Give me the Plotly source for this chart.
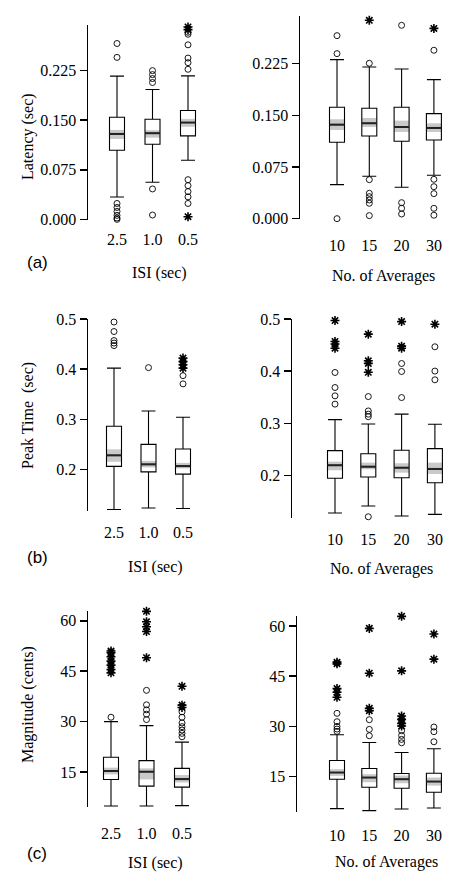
import plotly.graph_objects as go

W, H = 462, 878

# ---------------- data ----------------
isi_labels = ["2.5", "1.0", "0.5"]
avg_labels = ["10", "15", "20", "30"]

# (a) Latency (sec) vs ISI
lat_isi_q1 = [0.1045, 0.1136, 0.1262]
lat_isi_med = [0.1292, 0.1303, 0.1464]
lat_isi_q3 = [0.1545, 0.1515, 0.1646]
lat_isi_lo = [0.0338, 0.0560, 0.0894]
lat_isi_hi = [0.2167, 0.1964, 0.2171]
lat_isi_cilo = [0.1216, 0.1236, 0.1400]
lat_isi_cihi = [0.1353, 0.1348, 0.1520]
lat_isi_out = [[0.000, 0.002, 0.006, 0.012, 0.018, 0.024, 0.245, 0.266],
               [0.0065, 0.046, 0.207, 0.213, 0.219, 0.225],
               [0.024, 0.034, 0.042, 0.051, 0.060, 0.227, 0.237, 0.244, 0.264, 0.280, 0.283]]
lat_isi_ext = [[], [], [0.004, 0.287, 0.291]]

# (a) Latency (sec) vs No. of averages
lat_avg_q1 = [0.1108, 0.1200, 0.1123, 0.1142]
lat_avg_med = [0.1364, 0.1384, 0.1330, 0.1316]
lat_avg_q3 = [0.1616, 0.1601, 0.1616, 0.1523]
lat_avg_lo = [0.0493, 0.0615, 0.0455, 0.0630]
lat_avg_hi = [0.2307, 0.2201, 0.2172, 0.2017]
lat_avg_cilo = [0.1287, 0.1330, 0.1258, 0.1258]
lat_avg_cihi = [0.1442, 0.1460, 0.1422, 0.1384]
lat_avg_out = [[0.000, 0.2394, 0.2655],
               [0.0044, 0.0223, 0.0271, 0.0319, 0.0368, 0.0566, 0.2254],
               [0.0068, 0.0151, 0.0232, 0.2805],
               [0.0050, 0.0150, 0.0363, 0.0464, 0.0571, 0.2443]]
lat_avg_ext = [[], [0.2878], [], [0.2760]]

# (b) Peak time (sec) vs ISI
pk_isi_q1 = [0.206, 0.195, 0.1906]
pk_isi_med = [0.228, 0.210, 0.2066]
pk_isi_q3 = [0.286, 0.250, 0.2406]
pk_isi_lo = [0.120, 0.123, 0.122]
pk_isi_hi = [0.402, 0.3166, 0.304]
pk_isi_cilo = [0.2152, 0.204, 0.202]
pk_isi_cihi = [0.240, 0.217, 0.213]
pk_isi_out = [[0.447, 0.452, 0.457, 0.475, 0.494, 0.502],
              [0.403],
              [0.3706, 0.387]]
pk_isi_ext = [[], [], [0.402, 0.4086, 0.415, 0.422]]

# (b) Peak time (sec) vs No. of averages
pk_avg_q1 = [0.195, 0.1975, 0.1962, 0.1866]
pk_avg_med = [0.220, 0.2173, 0.2153, 0.2129]
pk_avg_q3 = [0.248, 0.242, 0.2487, 0.2518]
pk_avg_lo = [0.1285, 0.1419, 0.1227, 0.126]
pk_avg_hi = [0.3074, 0.299, 0.3178, 0.2986]
pk_avg_cilo = [0.2104, 0.2123, 0.2058, 0.2033]
pk_avg_cihi = [0.2269, 0.225, 0.2238, 0.225]
pk_avg_out = [[0.337, 0.3529, 0.3688, 0.3976],
              [0.1214, 0.313, 0.3178, 0.324, 0.3515],
              [0.3496, 0.3995, 0.4148],
              [0.3836, 0.4003, 0.4468]]
pk_avg_ext = [[0.444, 0.452, 0.457, 0.497],
              [0.398, 0.415, 0.420, 0.471],
              [0.444, 0.448, 0.495],
              [0.490]]

# (c) Magnitude (cents) vs ISI
mag_isi_q1 = [12.8, 10.8, 10.5]
mag_isi_med = [15.3, 15.1, 12.9]
mag_isi_q3 = [19.4, 18.4, 16.1]
mag_isi_lo = [4.9, 4.9, 5.0]
mag_isi_hi = [30.0, 28.8, 23.9]
mag_isi_cilo = [14.3, 12.8, 11.9]
mag_isi_cihi = [16.3, 16.1, 14.1]
mag_isi_out = [[31.3],
               [30.6, 32.2, 33.5, 35.0, 39.3],
               [25.5, 26.5, 27.5, 28.5, 29.6, 31.3, 32.9]]
mag_isi_ext = [[44.5, 45.5, 46.8, 48.0, 49.3, 50.5, 51.0],
               [49.0, 56.8, 58.2, 59.7, 62.8],
               [34.2, 34.9, 40.5]]

# (c) Magnitude (cents) vs No. of averages
mag_avg_q1 = [14.2, 11.8, 11.5, 10.3]
mag_avg_med = [16.2, 14.7, 14.2, 13.5]
mag_avg_q3 = [19.8, 17.4, 15.9, 16.0]
mag_avg_lo = [5.4, 4.8, 5.3, 5.6]
mag_avg_hi = [27.5, 25.2, 22.2, 23.3]
mag_avg_cilo = [15.2, 13.3, 13.0, 12.3]
mag_avg_cihi = [17.2, 15.7, 15.3, 14.7]
mag_avg_out = [[28.5, 29.2, 30.0, 31.4, 33.9],
               [27.2, 29.1, 32.0],
               [25.1, 26.1, 27.3, 28.7],
               [25.4, 28.4, 29.8]]
mag_avg_ext = [[38.7, 40.2, 41.3, 48.7, 49.2],
               [34.7, 35.4, 45.9, 59.3],
               [30.1, 30.9, 32.1, 33.1, 46.6, 62.9],
               [50.1, 57.6]]

# ---------------- layout geometry (pixels) ----------------
panels = [
    dict(cats=isi_labels, q1=lat_isi_q1, med=lat_isi_med, q3=lat_isi_q3, lo=lat_isi_lo, hi=lat_isi_hi,
         cilo=lat_isi_cilo, cihi=lat_isi_cihi, out=lat_isi_out, ext=lat_isi_ext,
         axis=88, c0=117, dx=35.5, right=225, top=25, bot=220, yr=[-0.001, 0.294],
         tv=[0, 0.075, 0.15, 0.225], fmt=".3f", tl=5),
    dict(cats=avg_labels, q1=lat_avg_q1, med=lat_avg_med, q3=lat_avg_q3, lo=lat_avg_lo, hi=lat_avg_hi,
         cilo=lat_avg_cilo, cihi=lat_avg_cihi, out=lat_avg_out, ext=lat_avg_ext,
         axis=300, c0=337, dx=32.3, right=458, top=16, bot=219, yr=[-0.0005, 0.294],
         tv=[0, 0.075, 0.15, 0.225], fmt=".3f", tl=12),
    dict(cats=isi_labels, q1=pk_isi_q1, med=pk_isi_med, q3=pk_isi_q3, lo=pk_isi_lo, hi=pk_isi_hi,
         cilo=pk_isi_cilo, cihi=pk_isi_cihi, out=pk_isi_out, ext=pk_isi_ext,
         axis=88, c0=114, dx=34.5, right=225, top=319, bot=511, yr=[0.117, 0.5],
         tv=[0.2, 0.3, 0.4, 0.5], fmt=".1f", tl=7),
    dict(cats=avg_labels, q1=pk_avg_q1, med=pk_avg_med, q3=pk_avg_q3, lo=pk_avg_lo, hi=pk_avg_hi,
         cilo=pk_avg_cilo, cihi=pk_avg_cihi, out=pk_avg_out, ext=pk_avg_ext,
         axis=292, c0=335, dx=33.3, right=458, top=319, bot=518, yr=[0.119, 0.5],
         tv=[0.2, 0.3, 0.4, 0.5], fmt=".1f", tl=7),
    dict(cats=isi_labels, q1=mag_isi_q1, med=mag_isi_med, q3=mag_isi_q3, lo=mag_isi_lo, hi=mag_isi_hi,
         cilo=mag_isi_cilo, cihi=mag_isi_cihi, out=mag_isi_out, ext=mag_isi_ext,
         axis=88, c0=111, dx=35.5, right=225, top=611, bot=807, yr=[4.6, 62.9],
         tv=[15, 30, 45, 60], fmt="d", tl=12),
    dict(cats=avg_labels, q1=mag_avg_q1, med=mag_avg_med, q3=mag_avg_q3, lo=mag_avg_lo, hi=mag_avg_hi,
         cilo=mag_avg_cilo, cihi=mag_avg_cihi, out=mag_avg_out, ext=mag_avg_ext,
         axis=297, c0=337, dx=32.3, right=458, top=616, bot=812, yr=[4.4, 63.0],
         tv=[15, 30, 45, 60], fmt="d", tl=9),
]

SERIF = "Liberation Serif"
BOX_PX = 15

fig = go.Figure()
layout_axes = {}
for i, p in enumerate(panels):
    n = i + 1
    xa = "x" if n == 1 else f"x{n}"
    ya = "y" if n == 1 else f"y{n}"
    xs = list(range(1, len(p["cats"]) + 1))
    w = BOX_PX / p["dx"]

    # grey band around the median (confidence interval)
    fig.add_trace(go.Bar(x=xs, y=[h - l for h, l in zip(p["cihi"], p["cilo"])], base=p["cilo"],
                         width=w, marker=dict(color="#c9c9c9", line=dict(width=0)),
                         xaxis=xa, yaxis=ya, showlegend=False, hoverinfo="skip"))
    # box + whiskers
    fig.add_trace(go.Box(x=xs, q1=p["q1"], median=p["med"], q3=p["q3"],
                         lowerfence=p["lo"], upperfence=p["hi"], width=w,
                         whiskerwidth=0.93, fillcolor="rgba(0,0,0,0)",
                         line=dict(color="black", width=1.1), boxpoints=False,
                         xaxis=xa, yaxis=ya, showlegend=False))
    # median line (thicker)
    mx, my = [], []
    for x, m in zip(xs, p["med"]):
        mx += [x - w / 2, x + w / 2, None]
        my += [m, m, None]
    fig.add_trace(go.Scatter(x=mx, y=my, mode="lines", line=dict(color="#222222", width=2),
                             xaxis=xa, yaxis=ya, showlegend=False, hoverinfo="skip"))
    # outliers
    ox, oy, ex, ey = [], [], [], []
    for x, o, e in zip(xs, p["out"], p["ext"]):
        ox += [x] * len(o); oy += o
        ex += [x] * len(e); ey += e
    fig.add_trace(go.Scatter(x=ox, y=oy, mode="markers", cliponaxis=False,
                             marker=dict(symbol="circle-open", size=6, color="black", line=dict(width=0.9)),
                             xaxis=xa, yaxis=ya, showlegend=False))
    fig.add_trace(go.Scatter(x=ex, y=ey, mode="markers", cliponaxis=False,
                             marker=dict(symbol="asterisk-open", size=7.5, color="black", line=dict(width=1.6)),
                             xaxis=xa, yaxis=ya, showlegend=False))

    xlo = 1 - (p["c0"] - p["axis"]) / p["dx"]
    xhi = xlo + (p["right"] - p["axis"]) / p["dx"]
    key = "" if n == 1 else str(n)
    layout_axes["xaxis" + key] = dict(
        domain=[p["axis"] / W, p["right"] / W], range=[xlo, xhi], anchor=ya, automargin=False,
        showline=False, showgrid=False, zeroline=False,
        tickvals=xs, ticktext=p["cats"], ticks="outside", ticklen=p["tl"],
        tickcolor="rgba(0,0,0,0)", tickfont=dict(family=SERIF, size=16, color="black"))
    layout_axes["yaxis" + key] = dict(
        domain=[1 - p["bot"] / H, 1 - p["top"] / H], range=p["yr"], anchor=xa, automargin=False,
        showline=True, linecolor="black", linewidth=1.5, showgrid=False, zeroline=False,
        ticks="outside", ticklen=7, tickwidth=1.5, tickcolor="black",
        tickvals=p["tv"], tickformat=p["fmt"],
        tickfont=dict(family=SERIF, size=16, color="black"))

ann = []
def txt(s, xp, yp, family=SERIF, size=16, angle=0):
    ann.append(dict(text=s, x=xp / W, y=1 - yp / H, xref="paper", yref="paper",
                    showarrow=False, xanchor="center", yanchor="middle", textangle=angle,
                    font=dict(family=family, size=size, color="black")))

txt("Latency (sec)", 28, 137, angle=-90)
txt("Peak Time\u00a0 (sec)", 28, 416, angle=-90)
txt("Magnitude (cents)", 28, 705, angle=-90)
txt("ISI (sec)", 159, 273)
txt("No. of Averages", 383, 276)
txt("ISI (sec)", 155, 567)
txt("No. of Averages", 381, 569)
txt("ISI (sec)", 155, 863)
txt("No. of Averages", 386, 862)
txt("(a)", 37, 262, family="Liberation Sans", size=17)
txt("(b)", 37, 557, family="Liberation Sans", size=17)
txt("(c)", 37, 853, family="Liberation Sans", size=17)

fig.update_layout(template="none", width=W, height=H, margin=dict(l=0, r=0, t=0, b=0, pad=0),
                  paper_bgcolor="white", plot_bgcolor="white", hovermode=False,
                  showlegend=False, annotations=ann, **layout_axes)
fig.write_html("out.html", config={"displayModeBar": False, "staticPlot": True},
               post_script="document.body.style.margin='0px';document.body.style.padding='0px';"
                           "document.documentElement.style.overflow='hidden';")
